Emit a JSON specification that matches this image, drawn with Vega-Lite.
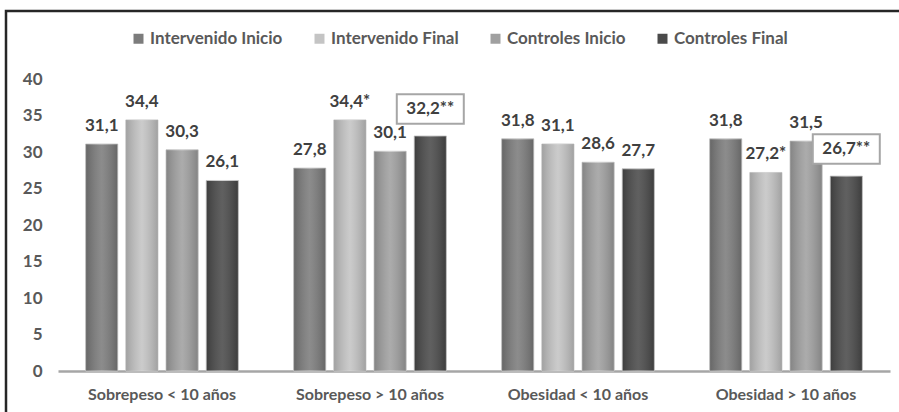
{
  "$schema": "https://vega.github.io/schema/vega-lite/v6.json",
  "width": 900,
  "height": 405,
  "autosize": {"type": "none"},
  "padding": {"left": 6, "top": 11, "right": 0, "bottom": 0},
  "background": "white",
  "config": {
    "view": {"stroke": "#262626", "strokeWidth": 2.5},
    "font": "Lato"
  },
  "data": {
    "values": [
      {"grupo": "Sobrepeso < 10 años", "serie": "Intervenido Inicio", "valor": 31.1, "label": "31,1"},
      {"grupo": "Sobrepeso < 10 años", "serie": "Intervenido Final", "valor": 34.4, "label": "34,4"},
      {"grupo": "Sobrepeso < 10 años", "serie": "Controles Inicio", "valor": 30.3, "label": "30,3"},
      {"grupo": "Sobrepeso < 10 años", "serie": "Controles  Final", "valor": 26.1, "label": "26,1"},
      {"grupo": "Sobrepeso > 10 años", "serie": "Intervenido Inicio", "valor": 27.8, "label": "27,8"},
      {"grupo": "Sobrepeso > 10 años", "serie": "Intervenido Final", "valor": 34.4, "label": "34,4*"},
      {"grupo": "Sobrepeso > 10 años", "serie": "Controles Inicio", "valor": 30.1, "label": "30,1"},
      {"grupo": "Sobrepeso > 10 años", "serie": "Controles  Final", "valor": 32.2, "label": "32,2**"},
      {"grupo": "Obesidad < 10 años", "serie": "Intervenido Inicio", "valor": 31.8, "label": "31,8"},
      {"grupo": "Obesidad < 10 años", "serie": "Intervenido Final", "valor": 31.1, "label": "31,1"},
      {"grupo": "Obesidad < 10 años", "serie": "Controles Inicio", "valor": 28.6, "label": "28,6"},
      {"grupo": "Obesidad < 10 años", "serie": "Controles  Final", "valor": 27.7, "label": "27,7"},
      {"grupo": "Obesidad > 10 años", "serie": "Intervenido Inicio", "valor": 31.8, "label": "31,8"},
      {"grupo": "Obesidad > 10 años", "serie": "Intervenido Final", "valor": 27.2, "label": "27,2*"},
      {"grupo": "Obesidad > 10 años", "serie": "Controles Inicio", "valor": 31.5, "label": "31,5"},
      {"grupo": "Obesidad > 10 años", "serie": "Controles  Final", "valor": 26.7, "label": "26,7**"}
    ]
  },
  "encoding": {
    "x": {
      "field": "grupo", "type": "nominal",
      "sort": ["Sobrepeso < 10 años", "Sobrepeso > 10 años", "Obesidad < 10 años", "Obesidad > 10 años"],
      "scale": {"range": [52, 884], "paddingInner": 0.2, "paddingOuter": 0.1},
      "axis": {
        "title": null, "labelAngle": 0, "domainColor": "#a6a6a6", "domainWidth": 2.5,
        "ticks": false, "tickSize": 0, "labelPadding": 15, "labelFontSize": 16,
        "labelFontWeight": "bold", "labelColor": "#595959", "offset": -45, "grid": false
      }
    },
    "xOffset": {
      "field": "serie", "type": "nominal",
      "sort": ["Intervenido Inicio", "Intervenido Final", "Controles Inicio", "Controles  Final"],
      "scale": {"paddingInner": 0.2, "paddingOuter": 0.17}
    },
    "y": {
      "field": "valor", "type": "quantitative",
      "scale": {"domain": [0, 40], "range": [360, 68], "nice": false, "zero": true},
      "axis": {
        "title": null, "values": [0, 5, 10, 15, 20, 25, 30, 35, 40], "domain": false,
        "ticks": false, "tickSize": 0, "labelPadding": 0, "offset": -36, "grid": false,
        "labelFontSize": 17, "labelFontWeight": "bold", "labelColor": "#595959"
      }
    }
  },
  "layer": [
    {
      "mark": {"type": "bar", "stroke": "#d0d0d0", "strokeWidth": 1},
      "encoding": {
        "color": {
          "field": "serie", "type": "nominal",
          "sort": ["Intervenido Inicio", "Intervenido Final", "Controles Inicio", "Controles  Final"],
          "scale": {
            "domain": ["Intervenido Inicio", "Intervenido Final", "Controles Inicio", "Controles  Final"],
            "range": ["#7c7c7c", "#c4c4c4", "#a0a0a0", "#4a4a4a"]
          },
          "legend": {
            "orient": "none", "legendX": 124, "legendY": 19, "direction": "horizontal",
            "title": null, "symbolType": "square", "symbolSize": 100, "labelFontSize": 17,
            "labelFontWeight": "bold", "labelColor": "#595959", "columnPadding": 28,
            "labelOffset": 3, "symbolStrokeWidth": 0
          }
        }
      }
    },
    {
      "mark": {
        "type": "bar",
        "color": {
          "gradient": "linear", "x1": 0, "x2": 1, "y1": 0, "y2": 0,
          "stops": [
            {"offset": 0, "color": "rgba(0,0,0,0.18)"},
            {"offset": 0.5, "color": "rgba(255,255,255,0.12)"},
            {"offset": 1, "color": "rgba(0,0,0,0.18)"}
          ]
        }
      }
    },
    {
      "transform": [{"filter": {"field": "label", "oneOf": ["32,2**", "26,7**"]}}],
      "mark": {
        "type": "point", "shape": "M-1,-0.44H1V0.44H-1Z", "size": 4489,
        "filled": true, "fill": "white", "fillOpacity": 1, "stroke": "#a6a6a6",
        "strokeWidth": 2, "opacity": 1, "yOffset": -27
      }
    },
    {
      "transform": [{"filter": {"not": {"field": "label", "oneOf": ["32,2**", "26,7**"]}}}],
      "mark": {"type": "text", "dy": -18, "baseline": "middle", "fontSize": 17, "fontWeight": "bold", "color": "#404040"},
      "encoding": {"text": {"field": "label"}}
    },
    {
      "transform": [{"filter": {"field": "label", "oneOf": ["32,2**", "26,7**"]}}],
      "mark": {"type": "text", "dy": -27, "baseline": "middle", "fontSize": 17, "fontWeight": "bold", "color": "#404040"},
      "encoding": {"text": {"field": "label"}}
    }
  ]
}
